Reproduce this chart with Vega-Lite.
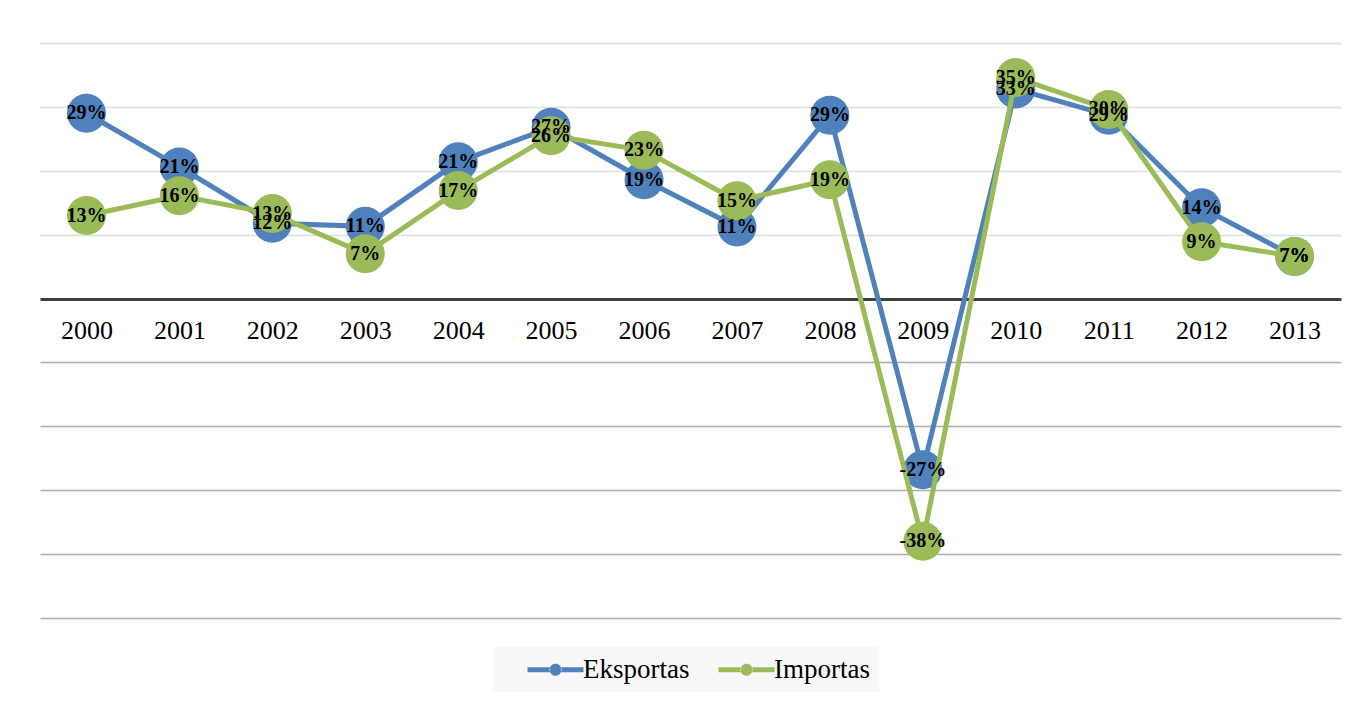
{
  "$schema": "https://vega.github.io/schema/vega-lite/v6.json",
  "width": 1301,
  "height": 575,
  "autosize": {"type": "none"},
  "padding": {"left": 40, "top": 43, "right": 20, "bottom": 84},
  "background": "white",
  "config": {
    "view": {"stroke": null},
    "locale": {"number": {"decimal": ".", "thousands": ",", "grouping": [3], "currency": ["$", ""], "minus": "-"}}
  },
  "data": {
    "values": [
      {"year": "2000", "series": "Eksportas", "value": 0.29},
      {"year": "2001", "series": "Eksportas", "value": 0.206},
      {"year": "2002", "series": "Eksportas", "value": 0.118},
      {"year": "2003", "series": "Eksportas", "value": 0.113},
      {"year": "2004", "series": "Eksportas", "value": 0.214},
      {"year": "2005", "series": "Eksportas", "value": 0.268},
      {"year": "2006", "series": "Eksportas", "value": 0.186},
      {"year": "2007", "series": "Eksportas", "value": 0.112},
      {"year": "2008", "series": "Eksportas", "value": 0.287},
      {"year": "2009", "series": "Eksportas", "value": -0.268},
      {"year": "2010", "series": "Eksportas", "value": 0.328},
      {"year": "2011", "series": "Eksportas", "value": 0.287},
      {"year": "2012", "series": "Eksportas", "value": 0.142},
      {"year": "2013", "series": "Eksportas", "value": 0.066},
      {"year": "2000", "series": "Importas", "value": 0.13},
      {"year": "2001", "series": "Importas", "value": 0.161},
      {"year": "2002", "series": "Importas", "value": 0.133},
      {"year": "2003", "series": "Importas", "value": 0.07},
      {"year": "2004", "series": "Importas", "value": 0.169},
      {"year": "2005", "series": "Importas", "value": 0.255},
      {"year": "2006", "series": "Importas", "value": 0.232},
      {"year": "2007", "series": "Importas", "value": 0.153},
      {"year": "2008", "series": "Importas", "value": 0.186},
      {"year": "2009", "series": "Importas", "value": -0.38},
      {"year": "2010", "series": "Importas", "value": 0.346},
      {"year": "2011", "series": "Importas", "value": 0.296},
      {"year": "2012", "series": "Importas", "value": 0.089},
      {"year": "2013", "series": "Importas", "value": 0.066}
    ]
  },
  "encoding": {
    "x": {
      "field": "year",
      "type": "ordinal",
      "sort": null,
      "scale": {"type": "point", "padding": 0.5},
      "axis": {
        "orient": "bottom",
        "offset": -319,
        "title": null,
        "ticks": false,
        "grid": false,
        "domainColor": "#404040",
        "domainWidth": 3,
        "labelFont": "Liberation Serif",
        "labelFontSize": 26,
        "labelColor": "black",
        "labelPadding": 18,
        "labelAngle": 0
      }
    },
    "y": {
      "field": "value",
      "type": "quantitative",
      "scale": {"domain": [-0.5, 0.4], "nice": false, "zero": false},
      "axis": {
        "title": null,
        "labels": false,
        "ticks": false,
        "domain": false,
        "values": [-0.5, -0.4, -0.3, -0.2, -0.1, 0.1, 0.2, 0.3, 0.4],
        "gridColor": {"condition": {"test": "datum.value < 0", "value": "#ababab"}, "value": "#dedede"},
        "gridWidth": 1.5
      }
    }
  },
  "layer": [
    {
      "transform": [{"filter": "datum.series === 'Eksportas'"}],
      "mark": {"type": "line", "strokeWidth": 5, "point": {"size": 1520, "filled": true, "opacity": 1}},
      "encoding": {
        "color": {
          "field": "series",
          "type": "nominal",
          "scale": {"domain": ["Eksportas", "Importas"], "range": ["#4F81BD", "#9BBB59"]},
          "legend": {
            "title": null,
            "orient": "none",
            "legendX": 453,
            "legendY": 604,
            "direction": "horizontal",
            "fillColor": "#f8f8f8",
            "padding": 9,
            "columnPadding": 3,
            "symbolOffset": 20,
            "symbolType": "M-1,-0.32L1.82,-0.32L1.82,0.32L-1,0.32Z M3.18,-0.32L6,-0.32L6,0.32L3.18,0.32Z M1.75,0A0.75,0.75 0 1,0 3.25,0A0.75,0.75 0 1,0 1.75,0Z",
            "symbolSize": 256,
            "symbolStrokeWidth": 0,
            "labelFont": "Liberation Serif",
            "labelFontSize": 27,
            "labelColor": "black",
            "labelOffset": 34,
            "labelLimit": 300,
            "encode": {"symbols": {"update": {"fill": {"scale": "color", "field": "value"}, "fillOpacity": {"value": 1}}}}
          }
        }
      }
    },
    {
      "transform": [{"filter": "datum.series === 'Importas'"}],
      "mark": {"type": "line", "strokeWidth": 5, "point": {"size": 1520, "filled": true, "opacity": 1}},
      "encoding": {
        "color": {"field": "series", "type": "nominal"}
      }
    },
    {
      "mark": {"type": "text", "font": "Liberation Serif", "fontWeight": "bold", "fontSize": 20, "color": "black", "baseline": "middle", "align": "center"},
      "encoding": {
        "text": {"field": "value", "type": "quantitative", "format": ".0%"}
      }
    }
  ]
}
